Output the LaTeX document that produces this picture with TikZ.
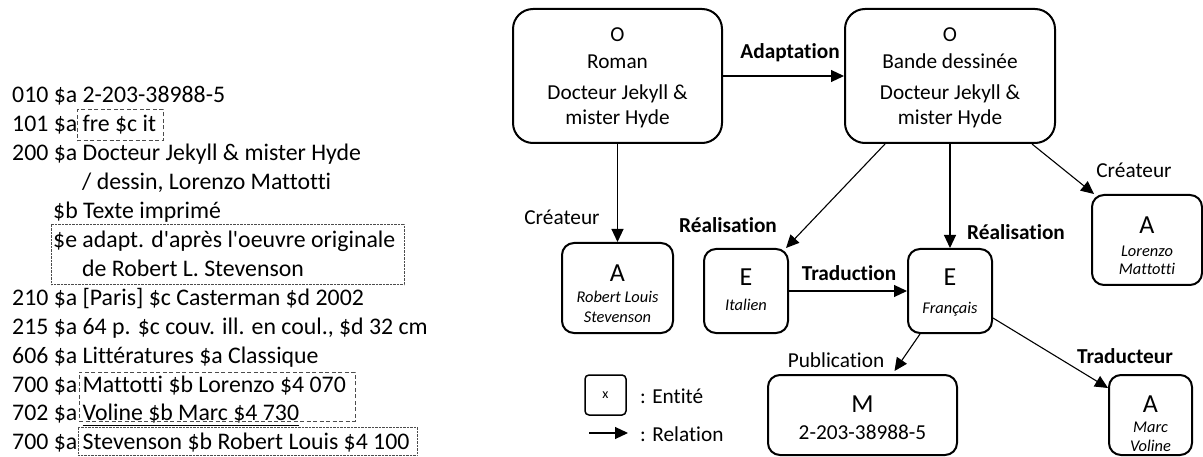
\documentclass[tikz,border=0pt]{standalone}
\usepackage{fontspec}
\setmainfont{Carlito}[Ligatures={NoCommon}]
\usetikzlibrary{arrows.meta,calc}

\begin{document}
\begin{tikzpicture}[x=1pt,y=-1pt,
  ent/.style={draw, line width=2pt, rounded corners=12pt, inner sep=0pt},
  rel/.style={-{Triangle[length=13pt,width=12pt]}, line width=1.1pt},
  txt/.style={inner sep=0pt, anchor=base, font=\fontsize{21.3}{25}\selectfont},
  big/.style={inner sep=0pt, anchor=base, font=\fontsize{26}{30}\selectfont},
  nom/.style={inner sep=0pt, anchor=base, font=\fontsize{16.4}{20}\selectfont\itshape},
  lab/.style={inner sep=0pt, font=\fontsize{21.3}{25}\selectfont},
  blab/.style={inner sep=0pt, font=\fontsize{21.3}{25}\selectfont\bfseries},
  rec/.style={inner sep=0pt, anchor=base west, font=\fontsize{23.8}{28}\selectfont},
  dashbox/.style={draw, line width=1pt, dash pattern=on 4pt off 2.5pt, inner sep=0pt, color=black!70},
  dotbox/.style={draw, line width=1pt, dash pattern=on 0.7pt off 0.7pt, inner sep=0pt, color=black!70},
 ]
\useasboundingbox (0,0) rectangle (1203,457);

% ---- UNIMARC record ----
\node[rec] (r010) at (12,103)   {010 \$a 2-203-38988-5};
\node[rec] (r101) at (12,131.9) {101 \$a};
\node[rec] (r101a) at ($(r101.base east)+(5,0)$) {fre \$c it};
\node[dashbox, minimum width=86pt, minimum height=31pt] (b101) at (120,125.5) {};
\node[rec] (r200) at (12,160.8) {200 \$a Docteur Jekyll \& mister Hyde};
\node[rec] (r200b) at (82,189.7) {/ dessin, Lorenzo Mattotti};
\node[rec] (r200c) at (53,218.6) {\$b Texte imprimé};
\node[rec] (r200d) at (53,247.5) {\$e adapt. d\textquotesingle après l\textquotesingle oeuvre originale};
\node[rec] (r200e) at (82,276.4) {de Robert L. Stevenson};
\node[dotbox, minimum width=353pt, minimum height=60pt] (b200) at (227.5,255) {};
\node[rec] (r210) at (12,305.3) {210 \$a [Paris] \$c Casterman \$d 2002};
\node[rec] (r215) at (12,334.2) {215 \$a 64 p. \$c couv. ill. en coul., \$d 32 cm};
\node[rec] (r606) at (12,363.1) {606 \$a Littératures \$a Classique};
\node[rec] (r700) at (12,392)   {700 \$a};
\node[rec] (r700a) at ($(r700.base east)+(5,0)$) {Mattotti \$b Lorenzo \$4 070};
\node[rec] (r702) at (12,420.9) {702 \$a};
\node[rec] (r702a) at ($(r702.base east)+(5,0)$) {\underline{Voline \$b Marc \$4 730}};
\node[dashbox, minimum width=276pt, minimum height=49pt] (b700) at (217,396.5) {};
\node[rec] (r700s) at (12,449.8) {700 \$a};
\node[rec] (r700b) at ($(r700s.base east)+(5,0)$) {Stevenson \$b Robert Louis \$4 100};
\node[dotbox, minimum width=339pt, minimum height=28pt] (b700s) at (247.5,441) {};

% ---- entities ----
\node[ent, rounded corners=20pt, minimum width=209pt, minimum height=134pt] (roman) at (617.5,76) {};
\node[txt] at (617.5,42) {O};
\node[txt] at (617.5,69) {Roman};
\node[txt] at (617.5,100) {Docteur Jekyll \&};
\node[txt] at (617.5,125) {mister Hyde};

\node[ent, rounded corners=20pt, minimum width=210pt, minimum height=134pt] (bd) at (950,76) {};
\node[txt] at (950,42) {O};
\node[txt] at (950,69) {Bande dessinée};
\node[txt] at (950,100) {Docteur Jekyll \&};
\node[txt] at (950,125) {mister Hyde};

\node[ent, minimum width=111pt, minimum height=90pt] (stev) at (617.5,288) {};
\node[big] at (617.5,282) {A};
\node[nom] at (617.5,303) {Robert Louis};
\node[nom] at (617.5,323) {Stevenson};

\node[ent, minimum width=84pt, minimum height=84pt] (ital) at (746,291) {};
\node[big] at (746,286) {E};
\node[nom] at (746,311) {Italien};

\node[ent, minimum width=84pt, minimum height=84pt] (fr) at (950,291) {};
\node[big] at (950,286) {E};
\node[nom] at (950,314) {Français};

\node[ent, minimum width=110pt, minimum height=90pt] (matt) at (1147,240) {};
\node[big] at (1147,234) {A};
\node[nom] at (1147,257) {Lorenzo};
\node[nom] at (1147,275) {Mattotti};

\node[ent, minimum width=189pt, minimum height=80pt] (man) at (862.5,415) {};
\node[big] at (862.5,412) {M};
\node[txt] at (862.5,439) {2-203-38988-5};

\node[ent, minimum width=83pt, minimum height=80pt] (vol) at (1150.5,415) {};
\node[big] at (1150.5,412) {A};
\node[nom] at (1150.5,432) {Marc};
\node[nom] at (1150.5,451) {Voline};

% ---- relations ----
\draw[rel] (roman.east) -- (roman.east -| bd.west);
\draw[rel] (roman.south) -- (stev.north);
\draw[rel] ($(bd.south)+(-65,0)$) -- ($(ital.north east)+(-3,0)$);
\draw[rel] (bd.south) -- (fr.north);
\draw[rel] ($(bd.south)+(82,0)$) -- ($(matt.north west)+(3,0)$);
\draw[rel] (ital.east) -- (fr.west);
\draw[rel] ($(fr.south)+(-30,0)$) -- ($(man.north)+(32,-3)$);
\draw[rel] ($(fr.east)+(0,27)$) -- ($(vol.north west)+(0,14)$);

\node[blab] (l0) at (790,53)   {Adaptation};
\node[lab]  (l1) at (562,217)  {Créateur};
\node[blab] (l2) at (728,225)  {Réalisation};
\node[blab] (l3) at (1016,232) {Réalisation};
\node[blab] (l4) at (849,273)  {Traduction};
\node[lab]  (l5) at (1134,170) {Créateur};
\node[lab]  (l6) at (836,360)  {Publication};
\node[blab] (l7) at (1125,356) {Traducteur};

% ---- legend ----
\node[draw, line width=1.5pt, rounded corners=4pt, minimum width=41pt, minimum height=40pt,
      inner sep=0pt, font=\fontsize{14}{16}\selectfont] (leg) at (605.5,395) {x};
\node[lab, anchor=west] (legE) at (640,396) {: Entité};
\coordinate (la) at (589,433);
\coordinate (lb) at (628,433);
\draw[rel] (la) -- (lb);
\node[lab, anchor=west] (legR) at (640,434) {: Relation};
\end{tikzpicture}
\end{document}
